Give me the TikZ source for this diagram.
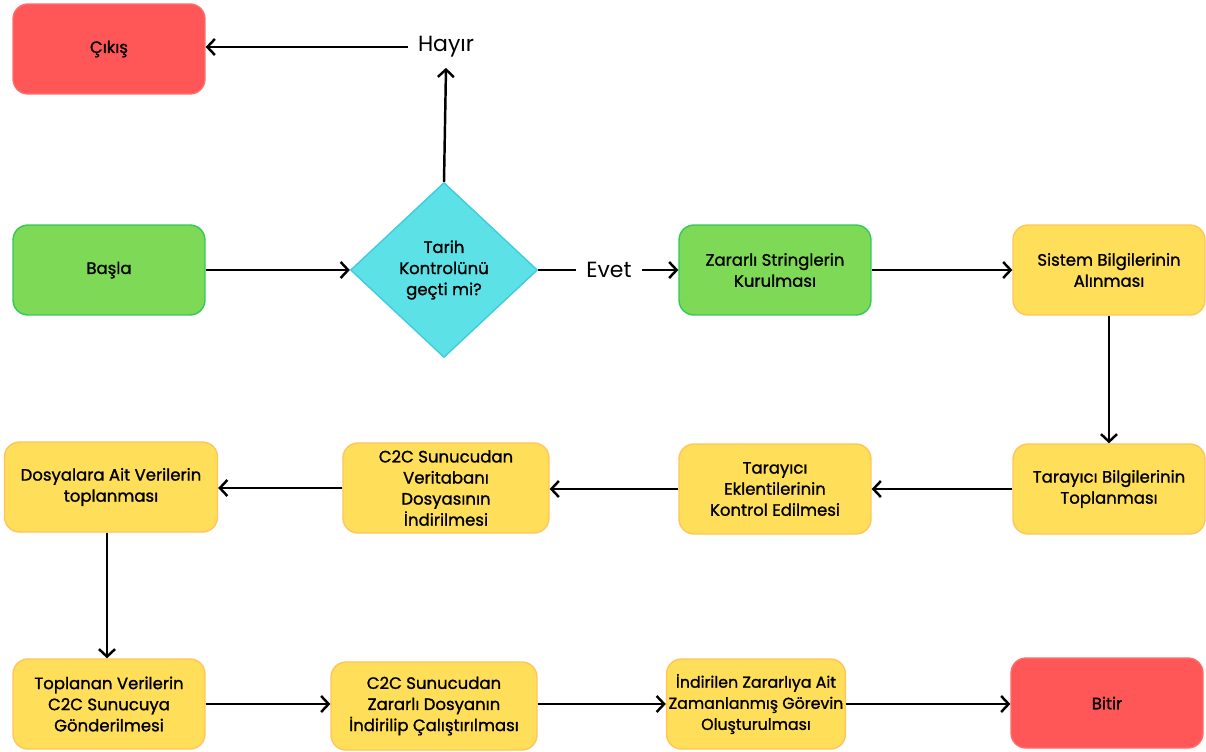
\documentclass[tikz,border=0pt]{standalone}
\usepackage{fontspec}
\setmainfont{Poppins}
\newfontfamily\boxfont{Poppins}[RawFeature={embolden=1.2}]
\usepackage{tikz}
\usetikzlibrary{shapes, arrows, arrows.meta, positioning, calc}

\definecolor{kirmizi}{HTML}{FF5757}
\definecolor{kirmizikenar}{HTML}{FF6B6B}
\definecolor{yesil}{HTML}{7ED957}
\definecolor{yesilkenar}{HTML}{2FCB55}
\definecolor{sari}{HTML}{FFDE59}
\definecolor{sarikenar}{HTML}{FFC55A}
\definecolor{mavi}{HTML}{5CE1E6}
\definecolor{mavikenar}{HTML}{3FCBE0}

\tikzset{
	kutu/.style={rectangle, rounded corners=0.3cm, line width=0.8pt, align=center,
		minimum width=3.84cm, minimum height=1.8cm, inner sep=1pt,
		font=\boxfont\fontsize{9.4}{12}\selectfont},
	bitis/.style={kutu, fill=kirmizi, draw=kirmizikenar},
	yesilkutu/.style={kutu, fill=yesil, draw=yesilkenar},
	sarikutu/.style={kutu, fill=sari, draw=sarikenar},
	karar/.style={diamond, fill=mavi, draw=mavikenar, line width=0.8pt, align=center,
		minimum width=3.74cm, minimum height=3.5cm, inner sep=0pt,
		font=\boxfont\fontsize{9.4}{12}\selectfont},
	etiket/.style={font=\fontsize{12.5}{14}\selectfont, inner sep=0.2cm},
	ok/.style={-{Straight Barb[length=1.5mm, width=3.2mm]}, line width=1.4pt}
}

\begin{document}
\begin{tikzpicture}[x=0.02cm, y=-0.02cm]
	\useasboundingbox (0,0) rectangle (1206,751);
	% ust satir
	\node[bitis] (cikis) at (109,49) {Çıkış};
	\node[etiket] (hayir) at (446,47) {Hayır};
	% ikinci satir
	\node[yesilkutu] (basla) at (109,270) {Başla};
	\node[karar] (tarih) at (444,270) {Tarih\\Kontrolünü\\geçti mi?};
	\node[etiket] (evet) at (609,270) {Evet};
	\node[yesilkutu] (zs) at (775,270) {Zararlı Stringlerin\\Kurulması};
	\node[sarikutu] (sb) at (1109,270) {Sistem Bilgilerinin\\Alınması};
	% ucuncu satir
	\node[sarikutu] (tb) at (1109,489) {Tarayıcı Bilgilerinin\\Toplanması};
	\node[sarikutu] (te) at (775,489) {Tarayıcı\\Eklentilerinin\\Kontrol Edilmesi};
	\node[sarikutu, minimum width=4.12cm] (vt) at (446,488) {C2C Sunucudan\\Veritabanı\\Dosyasının\\İndirilmesi};
	\node[sarikutu, minimum width=4.26cm] (dv) at (111,487) {Dosyalara Ait Verilerin\\toplanması};
	% alt satir
	\node[sarikutu] (tv) at (109,704) {Toplanan Verilerin\\C2C Sunucuya\\Gönderilmesi};
	\node[sarikutu, minimum width=4.12cm, minimum height=1.76cm] (zd) at (434,706) {C2C Sunucudan\\Zararlı Dosyanın\\İndirilip Çalıştırılması};
	\node[sarikutu, minimum width=3.58cm, inner sep=0pt, font=\boxfont\fontsize{9}{12}\selectfont] (gr) at (756,704) {İndirilen Zararlıya Ait\\Zamanlanmış Görevin\\Oluşturulması};
	\node[bitis] (bitir) at (1107,703) {Bitir};

	\draw[ok] (basla) -- (tarih);
	\draw[ok] (tarih.north) -- (hayir.south);
	\draw[ok] (hayir.west) -- (hayir.west -| cikis.east);
	\draw[line width=1.4pt] (tarih.east) -- (evet.west);
	\draw[ok] (evet.east) -- (zs.west);
	\draw[ok] (zs) -- (sb);
	\draw[ok] (sb) -- (tb);
	\draw[ok] (tb) -- (te);
	\draw[ok] (te.west) -- (te.west -| vt.east);
	\draw[ok] (vt.west) -- (vt.west -| dv.east);
	\draw[ok] (dv.south -| 107,0) -- (tv.north -| 107,0);
	\draw[ok] (tv.east) -- (tv.east -| zd.west);
	\draw[ok] (zd.east |- gr.west) -- (gr.west);
	\draw[ok] (gr.east) -- (gr.east -| bitir.west);
\end{tikzpicture}
\end{document}
